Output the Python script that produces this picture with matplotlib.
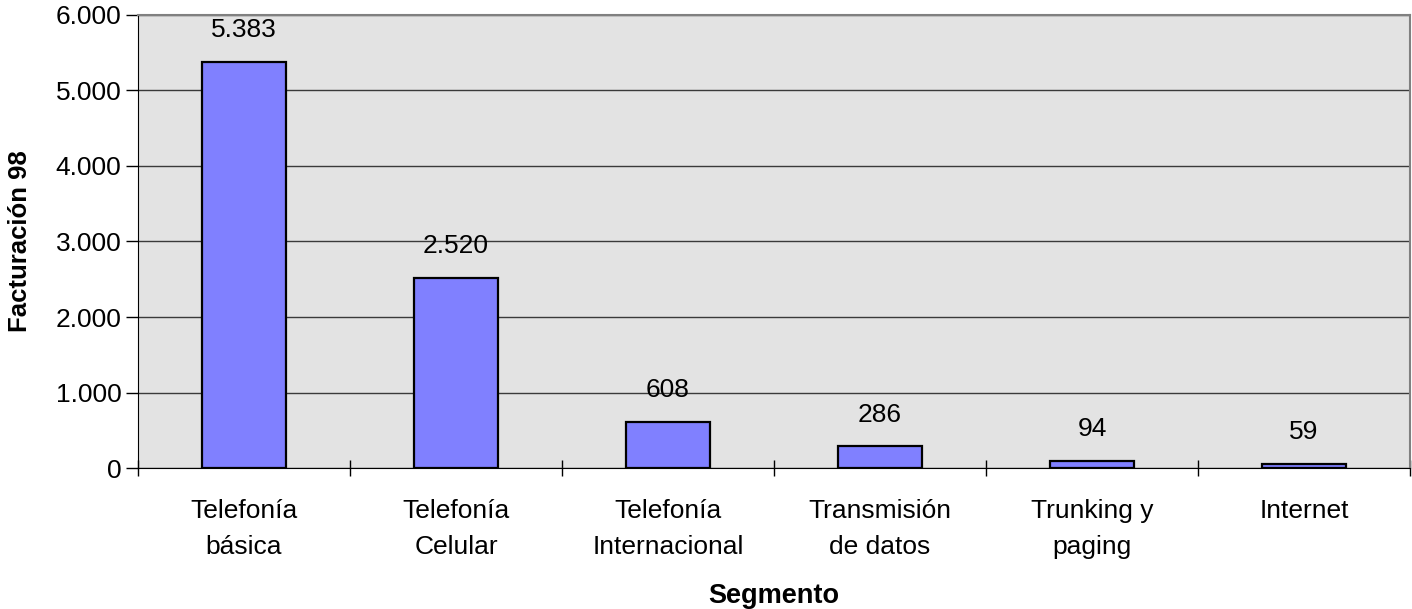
import numpy as np
import matplotlib
matplotlib.use("Agg")
import matplotlib.pyplot as plt
from matplotlib.ticker import FuncFormatter

plt.rcParams['font.family'] = ['Liberation Sans', 'DejaVu Sans']

# data
segmentos = ["Telefonía\nbásica", "Telefonía\nCelular", "Telefonía\nInternacional",
             "Transmisión\nde datos", "Trunking y\npaging", "Internet"]
facturacion = [5383, 2520, 608, 286, 94, 59]

fig = plt.figure(figsize=(14.12, 6.09), dpi=100)
ax = fig.add_axes([0.0977, 0.2315, 0.9009, 0.7439])
ax.set_facecolor("#E3E3E3")

x = np.arange(len(segmentos))
ax.bar(x, facturacion, width=0.4, color="#8080FF", edgecolor="black", linewidth=1.6, zorder=3)

for xi, v in zip(x, facturacion):
    txt = f"{v:,}".replace(",", ".")
    ax.text(xi, v + 420, txt, ha="center", va="center", fontsize=19)

ax.set_xlim(-0.5, len(segmentos) - 0.5)
ax.set_ylim(0, 6000)
ax.set_yticks(np.arange(0, 6001, 1000))
ax.yaxis.set_major_formatter(FuncFormatter(lambda v, p: f"{int(v):,}".replace(",", ".")))
ax.grid(axis="y", color="#3a3a3a", linewidth=1.0, zorder=1)

ax.set_xticks(x)
ax.set_xticklabels(segmentos, fontsize=19, linespacing=1.68)
ax.tick_params(axis="x", length=0, pad=22)
ax.set_xticks(np.arange(-0.5, len(segmentos), 1.0), minor=True)
ax.tick_params(axis="x", which="minor", direction="inout", length=12, width=1.0)
ax.tick_params(axis="y", length=9, width=1.0, labelsize=19, pad=3)

for s in ["top", "right"]:
    ax.spines[s].set_color("#808080")
    ax.spines[s].set_linewidth(1.5)
ax.spines["left"].set_color("black")
ax.spines["bottom"].set_color("black")

ax.set_xlabel("Segmento", fontsize=19.5, fontweight="bold", labelpad=17)
ax.set_ylabel("Facturación 98", fontsize=18.5, fontweight="bold", labelpad=17)

fig.savefig("out.png", dpi=100)
